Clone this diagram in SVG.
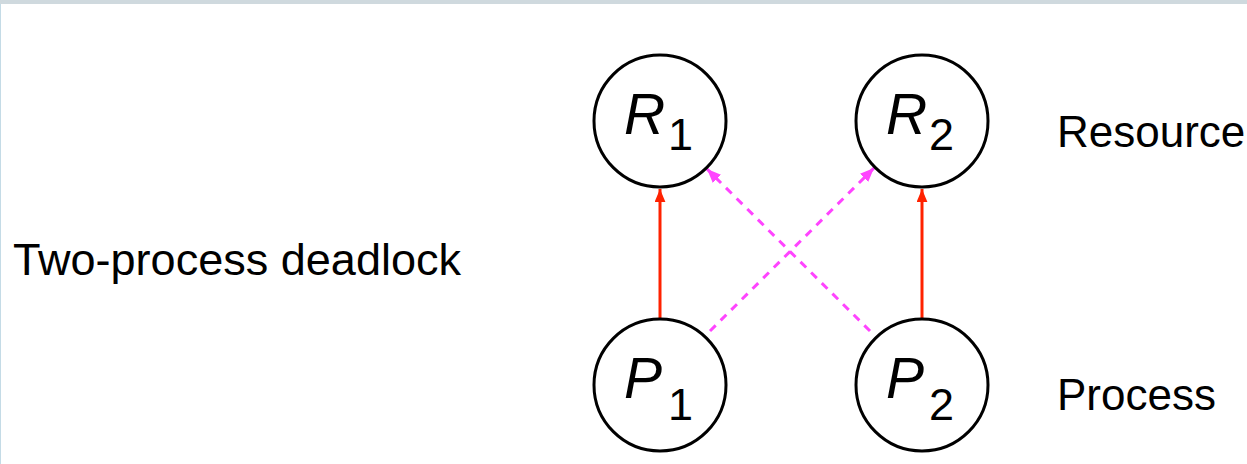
<svg xmlns="http://www.w3.org/2000/svg" width="1247" height="464" viewBox="0 0 1247 464">
  <style>
    .node { fill: #ffffff; stroke: #000000; stroke-width: 3; }
    .lbl { font-family: "Liberation Sans", Arial, sans-serif; fill: #000000; }
    .sym { font-family: "Liberation Sans", Arial, sans-serif; font-style: italic; font-size: 57px; fill: #000000; }
    .sub { font-family: "Liberation Sans", Arial, sans-serif; font-size: 45px; fill: #000000; }
    .hold { stroke: #ff2200; stroke-width: 3; fill: none; }
    .want { stroke: #ff44ff; stroke-width: 3; stroke-dasharray: 8 7; fill: none; }
  </style>
  <defs>
    <marker id="ahRed" viewBox="0 0 12 10" refX="12" refY="5" markerWidth="13" markerHeight="11" markerUnits="userSpaceOnUse" orient="auto">
      <path d="M0,0 L12,5 L0,10 Z" fill="#ff2200"/>
    </marker>
    <marker id="ahPink" viewBox="0 0 12 10" refX="12" refY="5" markerWidth="14" markerHeight="12" markerUnits="userSpaceOnUse" orient="auto">
      <path d="M0,0 L12,5 L0,10 Z" fill="#ff44ff"/>
    </marker>
  </defs>

  <!-- page frame -->
  <rect x="0" y="0" width="1247" height="464" fill="#ffffff"/>
  <rect x="0" y="0" width="1247" height="4" fill="#cfd9de"/>
  <line x1="0.5" y1="4" x2="0.5" y2="464" stroke="#c4dbe6" stroke-width="1"/>

  <!-- captions -->
  <text class="lbl" x="13" y="275" font-size="44" textLength="448" lengthAdjust="spacingAndGlyphs">Two-process deadlock</text>
  <text class="lbl" x="1057" y="147" font-size="44">Resource</text>
  <text class="lbl" x="1057" y="410" font-size="44">Process</text>

  <!-- connectors -->
  <g id="edges">
    <line class="hold" x1="660" y1="318" x2="660" y2="189" marker-end="url(#ahRed)"/>
    <line class="hold" x1="922" y1="318" x2="922" y2="189" marker-end="url(#ahRed)"/>
    <line class="want" x1="710" y1="331" x2="874" y2="168" marker-end="url(#ahPink)"/>
    <line class="want" x1="870" y1="331" x2="707" y2="169" marker-end="url(#ahPink)"/>
  </g>

  <g id="R1">
    <circle class="node" cx="660" cy="121" r="66"/>
    <text class="sym" x="624" y="134">R</text>
    <text class="sub" x="668" y="150">1</text>
  </g>
  <g id="R2">
    <circle class="node" cx="922" cy="121" r="66"/>
    <text class="sym" x="886" y="134">R</text>
    <text class="sub" x="929" y="150">2</text>
  </g>
  <g id="P1">
    <circle class="node" cx="660" cy="385" r="66"/>
    <text class="sym" x="624" y="398">P</text>
    <text class="sub" x="668" y="420">1</text>
  </g>
  <g id="P2">
    <circle class="node" cx="922" cy="385" r="66"/>
    <text class="sym" x="886" y="398">P</text>
    <text class="sub" x="929" y="420">2</text>
  </g>
</svg>
